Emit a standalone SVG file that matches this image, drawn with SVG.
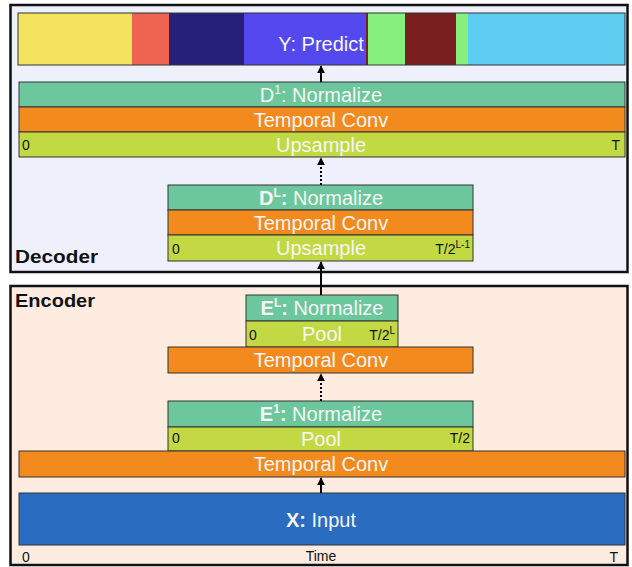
<svg xmlns="http://www.w3.org/2000/svg" width="632" height="567" viewBox="0 0 632 567">
<defs>
<style>
.panel{stroke:#111;stroke-width:2.5}
.blk{stroke:#333;stroke-width:1}
.norm{fill:#6cc89c}
.conv{fill:#f28a1e}
.samp{fill:#c2d943}
.wt{font-family:"Liberation Sans",Arial,sans-serif;font-size:20px;fill:#f6f6f6;text-anchor:middle}
.sm{font-family:"Liberation Sans",Arial,sans-serif;font-size:14px;fill:#111}
.lbl{font-family:"Liberation Sans",Arial,sans-serif;font-size:19px;font-weight:bold;fill:#111}
.b{font-weight:bold}
.con{stroke:#000;stroke-width:2;fill:none}
.dot{stroke-dasharray:2 2}
</style>
<marker id="ah" viewBox="0 0 10 10" refX="9" refY="5" markerWidth="4" markerHeight="4" orient="auto">
<path d="M0,0 L10,5 L0,10 z" fill="#000"/>
</marker>
</defs>

<g id="decoder">
<rect class="panel" x="10.5" y="5" width="617" height="267" fill="#eef1fb"/>
<text class="lbl" x="15" y="263" textLength="83" lengthAdjust="spacingAndGlyphs">Decoder</text>
</g>
<g id="encoder">
<rect class="panel" x="10.5" y="286" width="617" height="279" fill="#fdecdf"/>
<text class="lbl" x="15" y="307" textLength="80" lengthAdjust="spacingAndGlyphs">Encoder</text>
</g>

<g id="y-predict">
<rect x="18" y="13" width="114" height="52" fill="#f3e35f"/>
<rect x="132" y="13" width="37" height="52" fill="#ef6450"/>
<rect x="169" y="13" width="75" height="52" fill="#262078"/>
<rect x="244" y="13" width="122" height="52" fill="#5449ee"/>
<rect x="366" y="13" width="2" height="52" fill="#7a2020"/>
<rect x="368" y="13" width="37" height="52" fill="#86f07e"/>
<rect x="405" y="13" width="51" height="52" fill="#7a1f20"/>
<rect x="456" y="13" width="12" height="52" fill="#86f07e"/>
<rect x="468" y="13" width="157" height="52" fill="#5ecdf2"/>
<rect class="blk" x="18" y="13" width="607" height="52" fill="none"/>
<text class="wt" x="321" y="51">Y: Predict</text>
</g>

<g id="d1">
<rect class="blk norm" x="19" y="82" width="606" height="25"/>
<text class="wt" x="321" y="102">D<tspan font-size="12" dy="-8">1</tspan><tspan dy="8">: Normalize</tspan></text>
<rect class="blk conv" x="19" y="107" width="606" height="25"/>
<text class="wt" x="321" y="127">Temporal Conv</text>
<rect class="blk samp" x="19" y="132" width="606" height="25"/>
<text class="wt" x="321" y="152">Upsample</text>
<text class="sm" x="22" y="150">0</text>
<text class="sm" x="620" y="150" text-anchor="end">T</text>
</g>

<g id="dL">
<rect class="blk norm" x="168" y="185" width="305" height="25"/>
<text class="wt" x="321" y="205"><tspan class="b">D</tspan><tspan class="b" font-size="12" dy="-8">L</tspan><tspan class="b" dy="8">:</tspan> Normalize</text>
<rect class="blk conv" x="168" y="210" width="305" height="25"/>
<text class="wt" x="321" y="230">Temporal Conv</text>
<rect class="blk samp" x="168" y="235" width="305" height="26"/>
<text class="wt" x="321" y="255">Upsample</text>
<text class="sm" x="172" y="254">0</text>
<text class="sm" x="470" y="254" text-anchor="end">T/2<tspan font-size="10" dy="-6">L-1</tspan></text>
</g>

<g id="eL">
<rect class="blk norm" x="246" y="295" width="152" height="26"/>
<text class="wt" x="322" y="315"><tspan class="b">E</tspan><tspan class="b" font-size="12" dy="-8">L</tspan><tspan class="b" dy="8">:</tspan> Normalize</text>
<rect class="blk samp" x="246" y="321" width="152" height="26"/>
<text class="wt" x="322" y="341">Pool</text>
<text class="sm" x="249" y="340">0</text>
<text class="sm" x="395" y="340" text-anchor="end">T/2<tspan font-size="10" dy="-6">L</tspan></text>
</g>

<g id="conv-mid">
<rect class="blk conv" x="168" y="347" width="305" height="26"/>
<text class="wt" x="321" y="367">Temporal Conv</text>
</g>

<g id="e1">
<rect class="blk norm" x="168" y="401" width="305" height="26"/>
<text class="wt" x="321" y="421"><tspan class="b">E</tspan><tspan class="b" font-size="12" dy="-8">1</tspan><tspan class="b" dy="8">:</tspan> Normalize</text>
<rect class="blk samp" x="168" y="427" width="305" height="24"/>
<text class="wt" x="321" y="446">Pool</text>
<text class="sm" x="172" y="443">0</text>
<text class="sm" x="470" y="443" text-anchor="end">T/2</text>
</g>

<g id="conv-bottom">
<rect class="blk conv" x="19" y="451" width="606" height="26"/>
<text class="wt" x="321" y="471">Temporal Conv</text>
</g>

<g id="x-input">
<rect class="blk" x="19" y="493" width="606" height="52" fill="#296cc0"/>
<text class="wt" x="321" y="527"><tspan class="b">X:</tspan> Input</text>
<text class="sm" x="22" y="562">0</text>
<text class="sm" x="321" y="561" text-anchor="middle" font-size="15">Time</text>
<text class="sm" x="618" y="562" text-anchor="end">T</text>
</g>

<g id="connectors">
<line class="con" x1="321" y1="82" x2="321" y2="66" marker-end="url(#ah)"/>
<line class="con dot" x1="321" y1="185" x2="321" y2="158" marker-end="url(#ah)"/>
<line class="con" x1="321" y1="295" x2="321" y2="262" marker-end="url(#ah)"/>
<line class="con dot" x1="321" y1="401" x2="321" y2="374" marker-end="url(#ah)"/>
<line class="con" x1="321" y1="493" x2="321" y2="478" marker-end="url(#ah)"/>
</g>
</svg>
